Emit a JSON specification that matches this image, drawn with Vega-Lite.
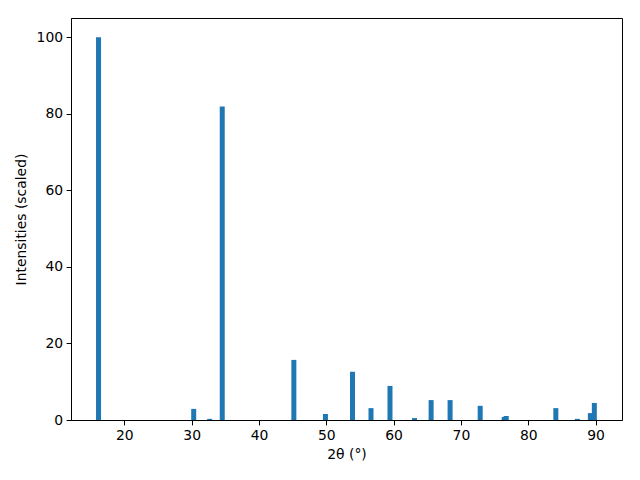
{
  "$schema": "https://vega.github.io/schema/vega-lite/v6.json",
  "width": 551,
  "height": 402,
  "autosize": {"type": "none"},
  "padding": {"left": 71, "top": 18, "right": 18, "bottom": 60},
  "background": "white",
  "config": {
    "view": {"stroke": "black", "strokeWidth": 1},
    "axis": {
      "grid": false,
      "domainColor": "black",
      "tickColor": "black",
      "tickSize": 4.9,
      "labelFont": "DejaVu Sans",
      "labelFontSize": 13.9,
      "labelColor": "black",
      "labelPadding": 3.5,
      "titleFont": "DejaVu Sans",
      "titleFontSize": 13.9,
      "titleFontWeight": "normal",
      "titleColor": "black"
    }
  },
  "data": {
    "values": [
      {"two_theta": 16.16, "intensity": 100},
      {"two_theta": 30.30, "intensity": 2.9},
      {"two_theta": 32.68, "intensity": 0.3},
      {"two_theta": 34.54, "intensity": 81.9},
      {"two_theta": 45.18, "intensity": 15.7},
      {"two_theta": 49.87, "intensity": 1.57},
      {"two_theta": 53.89, "intensity": 12.6},
      {"two_theta": 56.64, "intensity": 3.1},
      {"two_theta": 59.46, "intensity": 8.9},
      {"two_theta": 63.11, "intensity": 0.5},
      {"two_theta": 65.57, "intensity": 5.2},
      {"two_theta": 68.39, "intensity": 5.2},
      {"two_theta": 72.86, "intensity": 3.7},
      {"two_theta": 76.43, "intensity": 0.8},
      {"two_theta": 76.73, "intensity": 1.05},
      {"two_theta": 84.10, "intensity": 3.1},
      {"two_theta": 87.29, "intensity": 0.3},
      {"two_theta": 89.23, "intensity": 1.8},
      {"two_theta": 89.82, "intensity": 4.45}
    ]
  },
  "mark": {"type": "bar", "width": 5, "color": "#1f77b4"},
  "encoding": {
    "x": {
      "field": "two_theta",
      "type": "quantitative",
      "scale": {"domain": [12.07, 93.93], "nice": false, "zero": false, "padding": 0},
      "axis": {"values": [20, 30, 40, 50, 60, 70, 80, 90], "title": "2θ (°)", "titlePadding": 5}
    },
    "y": {
      "field": "intensity",
      "type": "quantitative",
      "scale": {"domain": [0, 105], "nice": false},
      "axis": {"values": [0, 20, 40, 60, 80, 100], "title": "Intensities (scaled)", "titlePadding": 8}
    }
  }
}
